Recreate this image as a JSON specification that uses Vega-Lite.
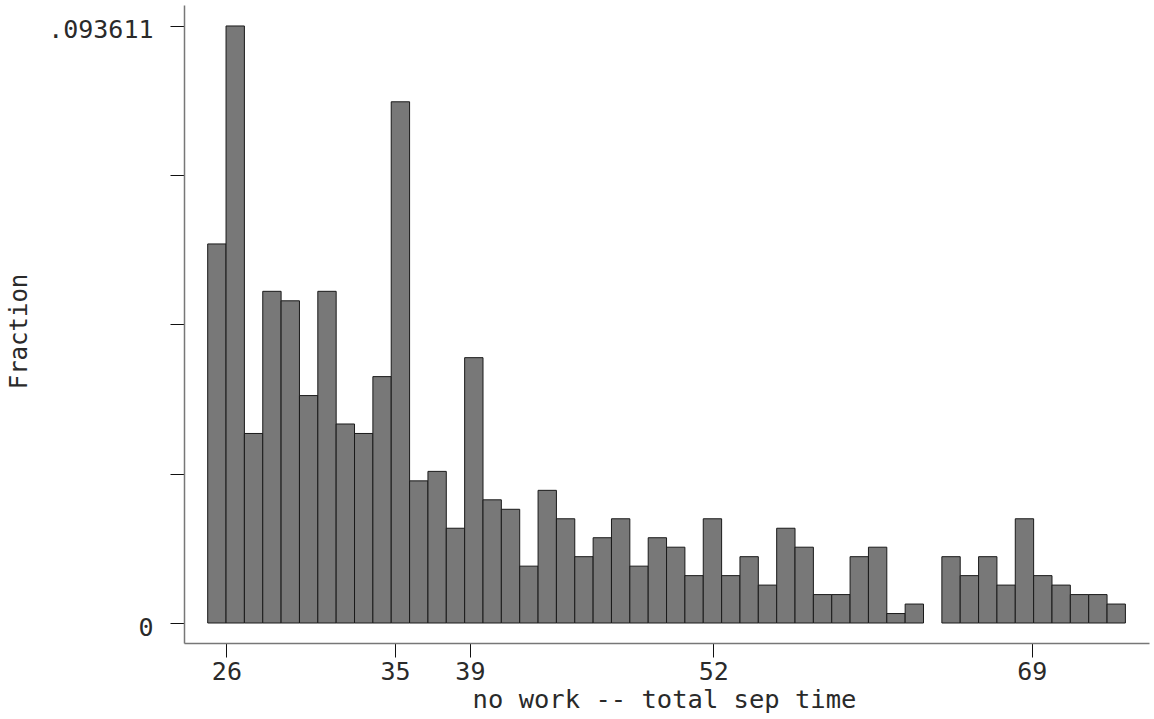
{
  "$schema": "https://vega.github.io/schema/vega-lite/v6.json",
  "autosize": {"type": "none"},
  "width": 965,
  "height": 638,
  "padding": {"left": 184, "top": 5, "right": 5, "bottom": 76},
  "background": "white",
  "config": {"view": {"stroke": null}, "font": "DejaVu Sans Mono"},
  "data": {
    "values": [
      {"bin_start": 25.00, "bin_end": 25.98, "fraction": 0.059435},
      {"bin_start": 25.98, "bin_end": 26.96, "fraction": 0.093611},
      {"bin_start": 26.96, "bin_end": 27.94, "fraction": 0.029718},
      {"bin_start": 27.94, "bin_end": 28.92, "fraction": 0.052006},
      {"bin_start": 28.92, "bin_end": 29.90, "fraction": 0.050520},
      {"bin_start": 29.90, "bin_end": 30.88, "fraction": 0.035661},
      {"bin_start": 30.88, "bin_end": 31.86, "fraction": 0.052006},
      {"bin_start": 31.86, "bin_end": 32.84, "fraction": 0.031204},
      {"bin_start": 32.84, "bin_end": 33.82, "fraction": 0.029718},
      {"bin_start": 33.82, "bin_end": 34.80, "fraction": 0.038633},
      {"bin_start": 34.80, "bin_end": 35.78, "fraction": 0.081724},
      {"bin_start": 35.78, "bin_end": 36.76, "fraction": 0.022288},
      {"bin_start": 36.76, "bin_end": 37.74, "fraction": 0.023774},
      {"bin_start": 37.74, "bin_end": 38.72, "fraction": 0.014859},
      {"bin_start": 38.72, "bin_end": 39.70, "fraction": 0.041605},
      {"bin_start": 39.70, "bin_end": 40.68, "fraction": 0.019316},
      {"bin_start": 40.68, "bin_end": 41.66, "fraction": 0.017831},
      {"bin_start": 41.66, "bin_end": 42.64, "fraction": 0.008915},
      {"bin_start": 42.64, "bin_end": 43.62, "fraction": 0.020802},
      {"bin_start": 43.62, "bin_end": 44.60, "fraction": 0.016345},
      {"bin_start": 44.60, "bin_end": 45.58, "fraction": 0.010401},
      {"bin_start": 45.58, "bin_end": 46.56, "fraction": 0.013373},
      {"bin_start": 46.56, "bin_end": 47.54, "fraction": 0.016345},
      {"bin_start": 47.54, "bin_end": 48.52, "fraction": 0.008915},
      {"bin_start": 48.52, "bin_end": 49.50, "fraction": 0.013373},
      {"bin_start": 49.50, "bin_end": 50.48, "fraction": 0.011887},
      {"bin_start": 50.48, "bin_end": 51.46, "fraction": 0.007429},
      {"bin_start": 51.46, "bin_end": 52.44, "fraction": 0.016345},
      {"bin_start": 52.44, "bin_end": 53.42, "fraction": 0.007429},
      {"bin_start": 53.42, "bin_end": 54.40, "fraction": 0.010401},
      {"bin_start": 54.40, "bin_end": 55.38, "fraction": 0.005944},
      {"bin_start": 55.38, "bin_end": 56.36, "fraction": 0.014859},
      {"bin_start": 56.36, "bin_end": 57.34, "fraction": 0.011887},
      {"bin_start": 57.34, "bin_end": 58.32, "fraction": 0.004458},
      {"bin_start": 58.32, "bin_end": 59.30, "fraction": 0.004458},
      {"bin_start": 59.30, "bin_end": 60.28, "fraction": 0.010401},
      {"bin_start": 60.28, "bin_end": 61.26, "fraction": 0.011887},
      {"bin_start": 61.26, "bin_end": 62.24, "fraction": 0.001486},
      {"bin_start": 62.24, "bin_end": 63.22, "fraction": 0.002972},
      {"bin_start": 64.20, "bin_end": 65.18, "fraction": 0.010401},
      {"bin_start": 65.18, "bin_end": 66.16, "fraction": 0.007429},
      {"bin_start": 66.16, "bin_end": 67.14, "fraction": 0.010401},
      {"bin_start": 67.14, "bin_end": 68.12, "fraction": 0.005944},
      {"bin_start": 68.12, "bin_end": 69.10, "fraction": 0.016345},
      {"bin_start": 69.10, "bin_end": 70.08, "fraction": 0.007429},
      {"bin_start": 70.08, "bin_end": 71.06, "fraction": 0.005944},
      {"bin_start": 71.06, "bin_end": 72.04, "fraction": 0.004458},
      {"bin_start": 72.04, "bin_end": 73.02, "fraction": 0.004458},
      {"bin_start": 73.02, "bin_end": 74.00, "fraction": 0.002972}
    ]
  },
  "mark": {"type": "bar", "fill": "#787878", "stroke": "#1a1a1a", "strokeWidth": 1},
  "encoding": {
    "x": {
      "field": "bin_start",
      "type": "quantitative",
      "scale": {"domain": [23.735, 75.26], "nice": false, "zero": false},
      "axis": {
        "values": [26, 35, 39, 52, 69],
        "grid": false,
        "title": "no work -- total sep time",
        "titleFont": "DejaVu Sans Mono",
        "titleFontSize": 25.5,
        "titleFontWeight": "normal",
        "titleColor": "#2a2a2a",
        "titleX": 480,
        "titleY": 64.5,
        "titleAlign": "center",
        "titleBaseline": "alphabetic",
        "domainColor": "#777",
        "domainWidth": 1.5,
        "tickColor": "#111",
        "tickSize": 14,
        "tickWidth": 1,
        "labelFont": "DejaVu Sans Mono",
        "labelFontSize": 25,
        "labelColor": "#2a2a2a",
        "labelPadding": 2,
        "labelFlush": false,
        "labelOverlap": false
      }
    },
    "x2": {"field": "bin_end"},
    "y": {
      "field": "fraction",
      "type": "quantitative",
      "scale": {"domain": [-0.003134, 0.0969], "nice": false, "zero": false},
      "axis": {
        "values": [0, 0.0234028, 0.0468055, 0.0702083, 0.093611],
        "labelExpr": "datum.value == 0 ? '0' : (datum.value > 0.09 ? '.093611' : '')",
        "grid": false,
        "title": "Fraction",
        "titleFont": "DejaVu Sans Mono",
        "titleFontSize": 24,
        "titleFontWeight": "normal",
        "titleColor": "#2a2a2a",
        "titleX": -165,
        "titleY": 326,
        "titleAngle": -90,
        "titleAlign": "center",
        "titleBaseline": "middle",
        "domainColor": "#777",
        "domainWidth": 1.5,
        "tickColor": "#111",
        "tickSize": 14,
        "tickWidth": 1,
        "labelFont": "DejaVu Sans Mono",
        "labelFontSize": 25,
        "labelColor": "#2a2a2a",
        "labelPadding": 17,
        "labelBaseline": "middle",
        "labelOffset": 4,
        "labelFlush": false,
        "labelOverlap": false
      }
    },
    "y2": {"datum": 0}
  }
}
